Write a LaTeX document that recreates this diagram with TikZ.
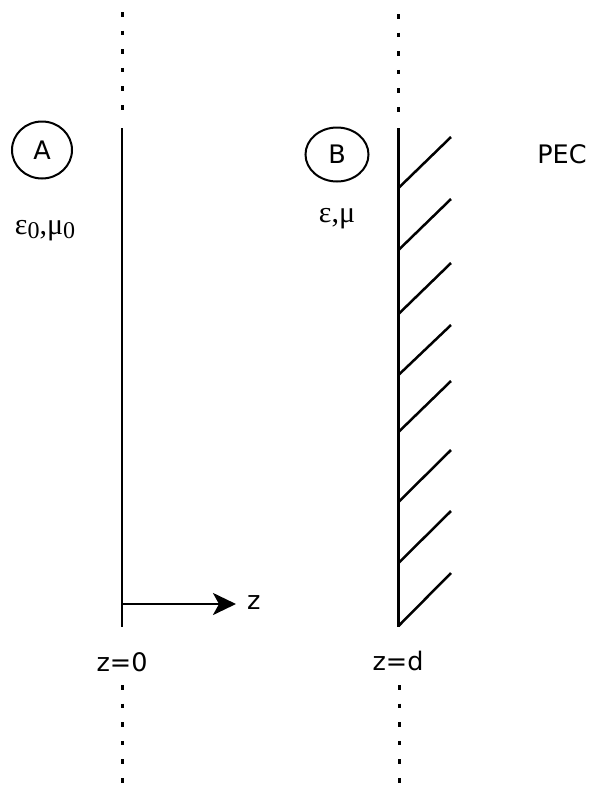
\documentclass[tikz,border=0pt]{standalone}
\usepackage{fontspec}
\setmainfont{DejaVu Sans}
\newfontfamily\serifgr{Liberation Serif}
\usetikzlibrary{arrows.meta,shapes.geometric}
\begin{document}
\begin{tikzpicture}[x=1pt,y=-1pt,
  wall/.style={line width=2.7pt},
  dotline/.style={line width=3pt,dash pattern=on 4.5pt off 14.1pt},
  hatch/.style={line width=2.5pt},
  region/.style={draw,ellipse,line width=2pt,inner sep=0pt},
  lbl/.style={font=\fontsize{25.5}{29}\selectfont,inner sep=0pt},
  mat/.style={font=\serifgr\fontsize{30}{34}\selectfont,inner sep=0pt}]
\useasboundingbox (0,0) rectangle (592,785);
% walls
\coordinate (a1) at (122,128);
\coordinate (a2) at (122,627);
\coordinate (b1) at (398.5,128);
\coordinate (b2) at (398.5,627);
\draw[wall] (a1) -- (a2);
\draw[wall] (b1) -- (b2);
% dotted extensions
\coordinate (at1) at (122,12);
\coordinate (at2) at (122,112);
\coordinate (bt1) at (398,14);
\coordinate (bt2) at (398,114);
\coordinate (ab1) at (122,685);
\coordinate (ab2) at (122,790);
\coordinate (bb1) at (399,685);
\coordinate (bb2) at (399,790);
\draw[dotline] (at1) -- (at2);
\draw[dotline] (bt1) -- (bt2);
\draw[dotline] (ab1) -- (ab2);
\draw[dotline] (bb1) -- (bb2);
% hatching
\foreach \yb/\yt in {188/137,250/199,314/263,375/325,432/381,502/450,563/511,626/573}{
  \draw[hatch] (398.5,\yb) -- (451,\yt);
}
% regions
\node[region,minimum width=60pt,minimum height=57pt] (A) at (42,150) {};
\node[lbl] (Al) at (A.center) {A};
\node[region,minimum width=63pt,minimum height=54pt] (B) at (337,154.5) {};
\node[lbl] (Bl) at (B.center) {B};
\node[lbl] (pec) at (562,154) {PEC};
\node[mat] (m0) at (45,231) {ε\raisebox{-0.12em}{\fontsize{24}{26}\selectfont 0},μ\raisebox{-0.12em}{\fontsize{24}{26}\selectfont 0}};
\node[mat] (m1) at (337,219) {ε,μ};
% axis
\coordinate (o) at (122,604);
\coordinate (zt) at (236,604);
\draw[wall,-{Stealth[length=23pt,width=22pt,inset=6pt]}] (o) -- (zt);
\node[lbl,anchor=west] (z) at (247,603) {z};
\node[lbl] (z0) at (122,662) {z=0};
\node[lbl] (zd) at (398,661) {z=d};
\end{tikzpicture}
\end{document}
